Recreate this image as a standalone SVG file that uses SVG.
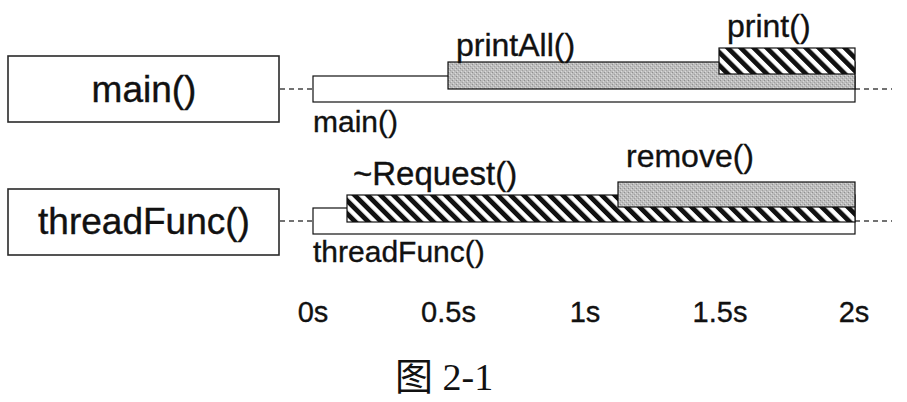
<svg xmlns="http://www.w3.org/2000/svg" width="907" height="402" viewBox="0 0 907 402">
  <style>
    .box { fill: #fff; stroke: #2a2a2a; stroke-width: 1.6; }
    .bar { stroke: #111; stroke-width: 1.2; }
    .white { fill: #fff; }
    .gray { fill: url(#grayTex); }
    .hatch { fill: url(#hatch); }
    .dash { stroke: #444; stroke-width: 1.3; stroke-dasharray: 5 4; fill: none; }
    .big { font-family: "Liberation Sans", Arial, sans-serif; font-size: 37px; fill: #111; stroke: #111; stroke-width: 0.4; }
    .lbl { font-family: "Liberation Sans", Arial, sans-serif; font-size: 30px; fill: #111; stroke: #111; stroke-width: 0.35; }
    .cap { font-family: "Liberation Serif", "Noto Sans CJK SC", serif; font-size: 38px; fill: #111; }
  </style>
  <defs>
    <pattern id="hatch" patternUnits="userSpaceOnUse" width="9.2" height="9.2" patternTransform="rotate(-45)">
      <rect x="0" y="0" width="9.2" height="9.2" fill="#fff"/>
      <rect x="0" y="0" width="4.8" height="9.2" fill="#111"/>
    </pattern>
    <pattern id="grayTex" patternUnits="userSpaceOnUse" width="4" height="4">
      <rect x="0" y="0" width="4" height="4" fill="#bcbcbc"/>
      <rect x="0" y="0" width="1" height="1" fill="#8f8f8f"/>
      <rect x="2" y="2" width="1" height="1" fill="#a0a0a0"/>
      <rect x="1" y="3" width="1" height="1" fill="#dadada"/>
      <rect x="3" y="1" width="1" height="1" fill="#dadada"/>
    </pattern>
  </defs>

  <g id="node-main">
    <rect class="box" x="8" y="56" width="271" height="66"/>
    <text class="big" x="144" y="102" text-anchor="middle">main()</text>
  </g>

  <g id="node-threadFunc">
    <rect class="box" x="8" y="189" width="271" height="66"/>
    <text class="big" x="144" y="234" text-anchor="middle">threadFunc()</text>
  </g>

  <g id="connectors">
    <line class="dash" x1="280" y1="89" x2="313" y2="89"/>
    <line class="dash" x1="855" y1="89" x2="892" y2="89"/>
    <line class="dash" x1="280" y1="221" x2="313" y2="221"/>
    <line class="dash" x1="855" y1="221" x2="892" y2="221"/>
  </g>

  <g id="timeline-main">
    <rect class="bar white" x="313" y="76" width="542" height="26"/>
    <rect class="bar gray" x="448" y="62" width="407" height="27"/>
    <rect class="bar hatch" x="719" y="48" width="136" height="26"/>
    <text class="lbl" x="313" y="132">main()</text>
    <text class="lbl" x="456" y="56" style="font-size:32px">printAll()</text>
    <text class="lbl" x="727" y="37" style="font-size:32px">print()</text>
  </g>

  <g id="timeline-thread">
    <rect class="bar white" x="313" y="208" width="542" height="26"/>
    <rect class="bar hatch" x="347" y="195" width="508" height="27"/>
    <rect class="bar gray" x="618" y="182" width="237" height="25"/>
    <text class="lbl" x="313" y="262">threadFunc()</text>
    <text class="lbl" x="353" y="185" style="font-size:33px">~Request()</text>
    <text class="lbl" x="626" y="167" style="font-size:32px">remove()</text>
  </g>

  <g id="axis">
    <text class="lbl" x="313" y="322" text-anchor="middle" style="font-size:29px">0s</text>
    <text class="lbl" x="448.5" y="322" text-anchor="middle" style="font-size:29px">0.5s</text>
    <text class="lbl" x="585" y="322" text-anchor="middle" style="font-size:29px">1s</text>
    <text class="lbl" x="720" y="322" text-anchor="middle" style="font-size:29px">1.5s</text>
    <text class="lbl" x="854" y="322" text-anchor="middle" style="font-size:29px">2s</text>
  </g>

  <text class="cap" x="395" y="390">图 2-1</text>
</svg>
